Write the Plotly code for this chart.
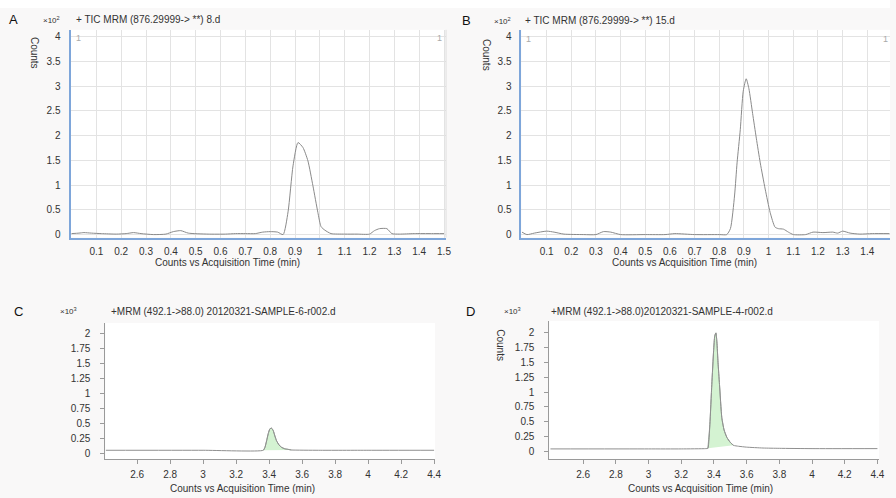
import numpy as np
import plotly.graph_objects as go

# ---------------- data ----------------
A_time = [0.0, 0.03, 0.05, 0.08, 0.12, 0.18, 0.22, 0.25, 0.28, 0.33, 0.38, 0.41, 0.44, 0.47,
          0.55, 0.62, 0.66, 0.7, 0.74, 0.77, 0.8, 0.83, 0.852, 0.872, 0.892, 0.912, 0.932,
          0.952, 0.972, 0.992, 1.005, 1.02, 1.045, 1.1, 1.15, 1.2, 1.22, 1.24, 1.27, 1.29,
          1.32, 1.38, 1.45, 1.5]
A_counts = [0.02, 0.03, 0.04, 0.03, 0.02, 0.01, 0.02, 0.04, 0.02, 0.0, 0.01, 0.06, 0.08, 0.03,
            0.01, 0.01, 0.02, 0.02, 0.02, 0.05, 0.06, 0.05, 0.0, 0.46, 1.39, 1.86, 1.76,
            1.49, 0.99, 0.45, 0.16, 0.09, 0.02, 0.01, 0.01, 0.01, 0.08, 0.12, 0.12, 0.02,
            0.01, 0.02, 0.02, 0.02]

B_time = [0.0, 0.02, 0.05, 0.1, 0.13, 0.17, 0.25, 0.3, 0.33, 0.36, 0.4, 0.5, 0.58, 0.62, 0.7,
          0.8, 0.83, 0.845, 0.862, 0.872, 0.885, 0.897, 0.909, 0.92, 0.935, 0.95, 0.966,
          0.986, 1.006, 1.026, 1.04, 1.06, 1.08, 1.1, 1.15, 1.18, 1.22, 1.26, 1.28, 1.3,
          1.33, 1.37, 1.42, 1.49]
B_counts = [0.05, 0.0, 0.03, 0.07, 0.05, 0.01, 0.0, 0.0, 0.06, 0.05, 0.0, 0.0, 0.0, 0.02, 0.0,
            0.0, 0.0, 0.12, 0.8, 1.45, 2.12, 2.9, 3.15, 2.95, 2.45, 1.95, 1.45,
            0.92, 0.45, 0.15, 0.12, 0.11, 0.05, 0.0, 0.0, 0.05, 0.04, 0.05, 0.03, 0.07,
            0.03, 0.01, 0.02, 0.02]

C_time = [2.41, 3.0, 3.365, 3.375, 3.385, 3.395, 3.405, 3.415, 3.425, 3.435, 3.445, 3.46,
          3.475, 3.495, 3.515, 3.535, 3.7, 4.0, 4.4]
C_counts = [0.05, 0.05, 0.05, 0.1, 0.21, 0.33, 0.41, 0.42, 0.38, 0.29, 0.21, 0.14,
            0.1, 0.075, 0.065, 0.055, 0.05, 0.05, 0.05]
C_peak = [3.365, 3.535]

D_time = [2.4, 3.0, 3.2, 3.35, 3.363, 3.375, 3.387, 3.398, 3.405, 3.412, 3.418, 3.425, 3.434,
          3.448, 3.462, 3.479, 3.5, 3.52, 3.55, 3.6, 3.7, 3.8, 4.0, 4.4]
D_counts = [0.04, 0.04, 0.04, 0.045, 0.05, 0.45, 1.13, 1.7, 1.95, 2.0, 1.85, 1.5, 1.13,
            0.57, 0.36, 0.235, 0.15, 0.1, 0.085, 0.07, 0.055, 0.05, 0.045, 0.045]
D_peak = [3.363, 3.52]

AB_y_ticks = [0, 0.5, 1, 1.5, 2, 2.5, 3, 3.5, 4]
AB_x_ticks = [0.1, 0.2, 0.3, 0.4, 0.5, 0.6, 0.7, 0.8, 0.9, 1.0, 1.1, 1.2, 1.3, 1.4, 1.5]
AB_x_labels = ["0.1", "0.2", "0.3", "0.4", "0.5", "0.6", "0.7", "0.8", "0.9", "1",
               "1.1", "1.2", "1.3", "1.4", "1.5"]
CD_y_ticks = [0, 0.25, 0.5, 0.75, 1, 1.25, 1.5, 1.75, 2]
CD_y_labels = ["0", "0.25", "0.5", "0.75", "1", "1.25", "1.5", "1.75", "2"]
CD_x_ticks = [2.6, 2.8, 3.0, 3.2, 3.4, 3.6, 3.8, 4.0, 4.2, 4.4]
CD_x_labels = ["2.6", "2.8", "3", "3.2", "3.4", "3.6", "3.8", "4", "4.2", "4.4"]

titles = {
    "A": "+ TIC MRM (876.29999-> **) 8.d",
    "B": "+ TIC MRM (876.29999-> **) 15.d",
    "C": "+MRM (492.1->88.0) 20120321-SAMPLE-6-r002.d",
    "D": "+MRM (492.1->88.0)20120321-SAMPLE-4-r002.d",
}
xtitle = "Counts vs Acquisition Time (min)"

# ---------------- layout helpers ----------------
W, H = 896, 498
FONT = "Liberation Sans, Arial, sans-serif"
TXT = "#333333"

def dx(px):
    return min(1.0, max(0.0, px / W))

def dy(py):
    return min(1.0, max(0.0, 1 - py / H))

fig = go.Figure()

LINE = "#8a8a8a"
fig.add_trace(go.Scatter(x=A_time, y=A_counts, mode="lines", xaxis="x", yaxis="y",
                         line=dict(color=LINE, width=1, shape="spline", smoothing=0.6),
                         showlegend=False, hoverinfo="skip"))
fig.add_trace(go.Scatter(x=B_time, y=B_counts, mode="lines", xaxis="x2", yaxis="y2",
                         line=dict(color=LINE, width=1, shape="spline", smoothing=0.6),
                         showlegend=False, hoverinfo="skip"))

def add_peak(t, c, peak, xa, ya):
    t = np.array(t)
    c = np.array(c)
    m = (t >= peak[0] - 1e-9) & (t <= peak[1] + 1e-9)
    fig.add_trace(go.Scatter(x=t[m], y=c[m], mode="lines", fill="toself",
                             fillcolor="#d4f3d2", xaxis=xa, yaxis=ya,
                             line=dict(color="#9aa59a", width=1, shape="spline", smoothing=0.5),
                             showlegend=False, hoverinfo="skip"))
    fig.add_trace(go.Scatter(x=t, y=c, mode="lines", xaxis=xa, yaxis=ya,
                             line=dict(color="#8f8f8f", width=1, shape="spline", smoothing=0.5),
                             showlegend=False, hoverinfo="skip"))

add_peak(C_time, C_counts, C_peak, "x3", "y3")
add_peak(D_time, D_counts, D_peak, "x4", "y4")

tickfont = dict(family=FONT, size=10, color=TXT)
BLUE = "#7ea6da"

def ab_axes(xdom, ydom, xr, anchor_x, anchor_y):
    xa = dict(domain=xdom, range=xr, anchor=anchor_y, showline=True, linecolor=BLUE,
              linewidth=2, mirror=False, showgrid=True, gridcolor="#e3e3e3", gridwidth=1,
              tickmode="array", tickvals=AB_x_ticks, ticktext=AB_x_labels, ticks="",
              tickfont=tickfont, ticklabelstandoff=3, zeroline=False, fixedrange=True)
    ya = dict(domain=ydom, range=[-0.06, 4.14], anchor=anchor_x, showline=True,
              linecolor=BLUE, linewidth=2, showgrid=True, gridcolor="#e3e3e3", gridwidth=1,
              tickmode="array", tickvals=AB_y_ticks, ticks="", tickfont=tickfont,
              ticklabelstandoff=6, zeroline=False, fixedrange=True)
    return xa, ya

def cd_axes(xdom, ydom, xr, yr, anchor_x, anchor_y):
    xa = dict(domain=xdom, range=xr, anchor=anchor_y, showline=True, linecolor="#9a9a9a",
              linewidth=1, showgrid=False, tickmode="array", tickvals=CD_x_ticks,
              ticktext=CD_x_labels, ticks="outside", ticklen=4, tickcolor="#9a9a9a",
              tickfont=tickfont, ticklabelstandoff=2, zeroline=False, fixedrange=True)
    ya = dict(domain=ydom, range=yr, anchor=anchor_x, showline=True, linecolor="#9a9a9a",
              linewidth=1, showgrid=False, tickmode="array", tickvals=CD_y_ticks,
              ticktext=CD_y_labels, ticks="outside", ticklen=4, tickcolor="#9a9a9a",
              tickfont=tickfont, ticklabelstandoff=8, zeroline=False, fixedrange=True)
    return xa, ya

xA, yA = ab_axes([dx(71), dx(449)], [dy(239), dy(30)], [-0.004, 1.508], "x", "y")
xB, yB = ab_axes([dx(525), dx(896)], [dy(239), dy(30)], [-0.002, 1.492], "x2", "y2")
xC, yC = cd_axes([dx(106), dx(438)], [dy(462), dy(325)], [2.407, 4.406], [-0.1, 2.183], "x3", "y3")
xD, yD = cd_axes([dx(553), dx(885)], [dy(462), dy(323)], [2.393, 4.41], [-0.134, 2.2], "x4", "y4")

annotations = []

def ann(text, xpx, ypx, size=10, xanchor="left", color=TXT, textangle=0, yanchor="middle"):
    annotations.append(dict(text=text, x=dx(xpx), y=dy(ypx), xref="paper", yref="paper",
                            xanchor=xanchor, yanchor=yanchor, showarrow=False,
                            textangle=textangle,
                            font=dict(family=FONT, size=size, color=color)))

# Panel A
ann("A", 14, 20, size=13, xanchor="center", color="#111111")
ann("×10<sup>2</sup>", 41, 20, size=8)
ann(titles["A"], 74, 20, size=10)
ann("Counts", 35, 53, size=10, xanchor="center", textangle=90)
ann("1", 74, 38, size=9, color="#aaaaaa")
ann("1", 447, 38, size=9, color="#aaaaaa", xanchor="right")
ann(xtitle, 229, 264, size=10, xanchor="center")
# Panel B
ann("B", 470, 21, size=13, xanchor="center", color="#111111")
ann("×10<sup>2</sup>", 495, 21, size=8)
ann(titles["B"], 527, 21, size=10)
ann("Counts", 490, 55, size=10, xanchor="center", textangle=90)
ann("1", 528, 39, size=9, color="#aaaaaa")
ann("1", 896, 39, size=9, color="#aaaaaa", xanchor="right")
ann(xtitle, 689, 264, size=10, xanchor="center")
# Panel C
ann("C", 19, 313, size=13, xanchor="center", color="#111111")
ann("×10<sup>3</sup>", 58, 313, size=8)
ann(titles["C"], 110, 313, size=10)
ann(xtitle, 244, 491, size=10, xanchor="center")
# Panel D
ann("D", 474, 313, size=13, xanchor="center", color="#111111")
ann("×10<sup>3</sup>", 505, 313, size=8)
ann(titles["D"], 553, 313, size=10)
ann("Counts", 503, 347, size=10, xanchor="center", textangle=90)
ann(xtitle, 705, 491, size=10, xanchor="center")

shapes = [
    dict(type="rect", xref="paper", yref="paper", x0=0, x1=1, y0=dy(8), y1=1,
         fillcolor="white", line=dict(width=0), layer="below"),
    dict(type="line", xref="paper", yref="paper", x0=dx(449), x1=dx(449), y0=dy(239), y1=dy(30),
         line=dict(color="#dcdcdc", width=1)),
]

fig.update_layout(
    width=W, height=H, margin=dict(l=0, r=0, t=0, b=0),
    paper_bgcolor="#f9f8f8", plot_bgcolor="white",
    xaxis=xA, yaxis=yA, xaxis2=xB, yaxis2=yB, xaxis3=xC, yaxis3=yC, xaxis4=xD, yaxis4=yD,
    annotations=annotations, shapes=shapes, showlegend=False, hovermode=False,
    font=dict(family=FONT, size=10, color=TXT),
)

fig.write_html(
    "out.html",
    config={"displayModeBar": False, "staticPlot": True},
    post_script="document.body.style.margin='0';document.body.style.overflow='hidden';"
                "document.documentElement.style.overflow='hidden';",
)
